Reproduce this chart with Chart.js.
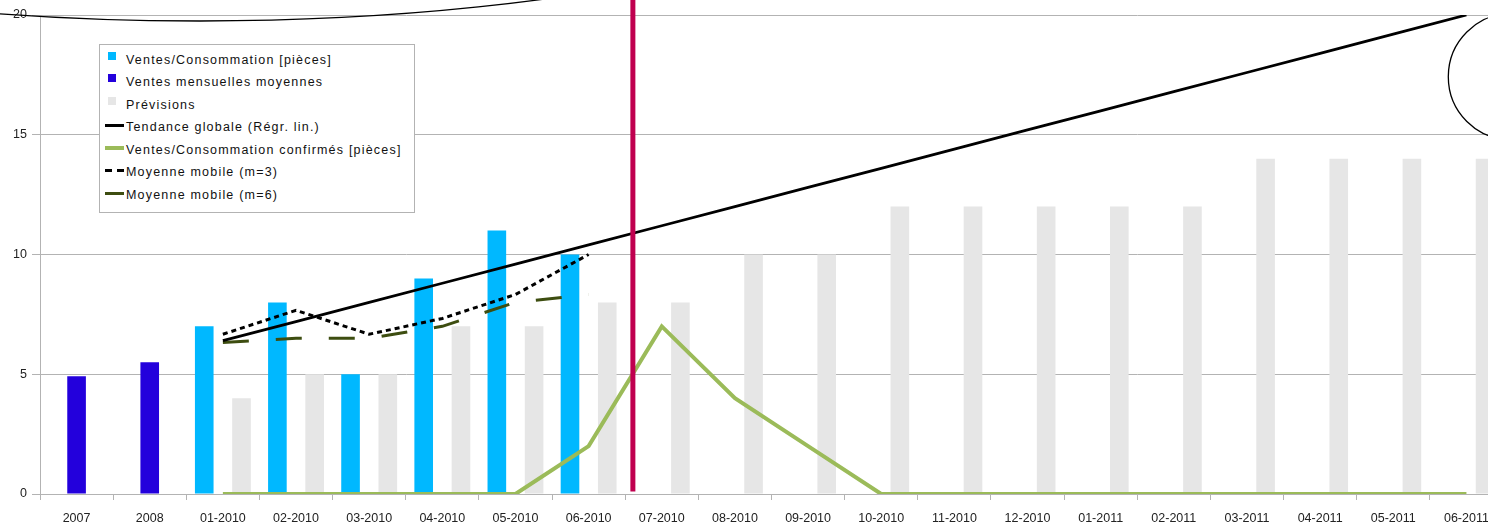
<!DOCTYPE html>
<html>
<head>
<meta charset="utf-8">
<script src="https://cdn.jsdelivr.net/npm/chart.js@4.4.1/dist/chart.umd.min.js"></script>
<style>
  html, body { margin: 0; padding: 0; background: #fff; overflow: hidden; width: 1488px; height: 528px; }
  #wrap { position: relative; width: 1503px; height: 528px; }
  #legend { position: absolute; left: 99px; top: 44px; width: 314px; height: 167px; border: 1px solid #b3b3b3; background: #fff; font-family: "Liberation Sans", Arial, sans-serif; font-size: 12.5px; letter-spacing: 1.2px; color: #111; z-index: 2; }
  .row { position: absolute; left: 26px; height: 15px; line-height: 15px; white-space: nowrap; }
  .sw { position: absolute; left: 8px; width: 8px; height: 8px; }
  .ln { position: absolute; left: 5px; width: 19px; height: 0; }
</style>
</head>
<body>
<div id="wrap">
  <canvas id="c"></canvas>
  <div id="legend"></div>
</div>
<script>
// ---- data ----
const categories = ["2007","2008","01-2010","02-2010","03-2010","04-2010","05-2010","06-2010","07-2010","08-2010","09-2010","10-2010","11-2010","12-2010","01-2011","02-2011","03-2011","04-2011","05-2011","06-2011"];
const ventes      = [null, null, 7, 8, 5, 9, 11, 10, null, null, null, null, null, null, null, null, null, null, null, null];
const moyennes    = [4.92, 5.5, null, null, null, null, null, null, null, null, null, null, null, null, null, null, null, null, null, null];
const previsions  = [null, null, 4, 5, 5, 7, 7, 8, 8, 10, 10, 12, 12, 12, 12, 12, 14, 14, 14, 14];
const tendance    = [null, null, 6.4, 7.2, 8.0, 8.8, 9.6, 10.4, 11.2, 12.0, 12.8, 13.6, 14.4, 15.2, 16.0, 16.8, 17.6, 18.4, 19.2, 20.0];
const confirmes   = [null, null, 0, 0, 0, 0, 0, 2, 7, 4, 2, 0, 0, 0, 0, 0, 0, 0, 0, 0];
const mm3         = [null, null, 6.67, 7.67, 6.67, 7.33, 8.33, 10.0, null, null, null, null, null, null, null, null, null, null, null, null];
const mm6         = [null, null, 6.33, 6.5, 6.5, 7.0, 8.0, 8.33, null, null, null, null, null, null, null, null, null, null, null, null];
const yTicks      = [0, 5, 10, 15, 20];

const C = {
  ventes: '#00b8ff', moy: '#2300dc', prev: '#e6e6e6', trend: '#000000',
  green: '#9bbb59', olive: '#3d4d10', red: '#c0004f', grid: '#b3b3b3'
};
const FONT = '"Liberation Sans", Arial, sans-serif';

const legendItems = [
  { label: 'Ventes/Consommation [pièces]', type: 'box', color: C.ventes },
  { label: 'Ventes mensuelles moyennes', type: 'box', color: C.moy },
  { label: 'Prévisions', type: 'box', color: C.prev },
  { label: 'Tendance globale (Régr. lin.)', type: 'line', color: C.trend, style: 'solid' },
  { label: 'Ventes/Consommation confirmés [pièces]', type: 'line', color: C.green, style: 'solid', w: 4 },
  { label: 'Moyenne mobile (m=3)', type: 'line', color: '#000', style: 'dash' },
  { label: 'Moyenne mobile (m=6)', type: 'line', color: C.olive, style: 'solid' }
];

// HTML legend
const lg = document.getElementById('legend');
legendItems.forEach((it, i) => {
  const cy = 15 + i * 22.5;
  if (it.type === 'box') {
    const s = document.createElement('div');
    s.className = 'sw';
    s.style.top = (cy - 8.5) + 'px';
    s.style.background = it.color;
    lg.appendChild(s);
  } else {
    const l = document.createElement('div');
    l.className = 'ln';
    const w = it.w || 3;
    l.style.top = (cy - 2 - w / 2) + 'px';
    if (it.style === 'dash') {
      l.style.borderTop = w + 'px dashed ' + it.color;
      l.style.borderImage = 'repeating-linear-gradient(to right, #000 0 7px, transparent 7px 12px) 1';
    } else {
      l.style.borderTop = w + 'px solid ' + it.color;
    }
    lg.appendChild(l);
  }
  const t = document.createElement('div');
  t.className = 'row';
  t.style.top = (cy - 7.5) + 'px';
  t.textContent = it.label;
  lg.appendChild(t);
});

// Decorations: red vertical marker + drawing ellipses
const decor = {
  id: 'decor',
  afterDatasetsDraw(chart) {
    const { ctx, scales: { x, y } } = chart;
    const step = x.getPixelForValue(8) - x.getPixelForValue(7);
    const xr = x.getPixelForValue(7) + 0.605 * step;
    ctx.save();
    ctx.strokeStyle = C.red;
    ctx.lineWidth = 5;
    ctx.beginPath();
    ctx.moveTo(xr, 0);
    ctx.lineTo(xr, y.getPixelForValue(0) - 2.5);
    ctx.stroke();
    // ellipses (drawing objects of the original sheet)
    ctx.strokeStyle = '#000';
    ctx.lineWidth = 1.3;
    ctx.beginPath();
    ctx.ellipse(200, -179, 756, 200, 0, 0, Math.PI * 2);
    ctx.stroke();
    ctx.beginPath();
    ctx.ellipse(1511.6, 76.7, 63.3, 63.3, 0, 0, Math.PI * 2);
    ctx.stroke();
    ctx.restore();
  }
};

new Chart(document.getElementById('c'), {
  data: {
    labels: categories,
    datasets: [
      { type: 'line', label: 'Tendance globale (Régr. lin.)', data: tendance, borderColor: C.trend, borderWidth: 2.8, pointRadius: 0, order: 0, spanGaps: false },
      { type: 'line', label: 'Ventes/Consommation confirmés [pièces]', data: confirmes, borderColor: C.green, borderWidth: 4, pointRadius: 0, order: 0 },
      { type: 'line', label: 'Moyenne mobile (m=3)', data: mm3, borderColor: '#000', borderWidth: 3, borderDash: [5, 4], pointRadius: 0, order: 0 },
      { type: 'line', label: 'Moyenne mobile (m=6)', data: mm6, borderColor: C.olive, borderWidth: 3, borderDash: [26, 27], pointRadius: 0, order: 0 },
      { type: 'bar', label: 'Ventes/Consommation [pièces]', data: ventes, backgroundColor: C.ventes, order: 1 },
      { type: 'bar', label: 'Ventes mensuelles moyennes', data: moyennes, backgroundColor: C.moy, order: 1 },
      { type: 'bar', label: 'Prévisions', data: previsions, backgroundColor: C.prev, order: 1 }
    ]
  },
  options: {
    responsive: true,
    maintainAspectRatio: false,
    animation: false,
    events: [],
    datasets: { bar: { categoryPercentage: 0.764, barPercentage: 1.0, borderWidth: 0 } },
    layout: { padding: { top: 15, right: 0, bottom: 0, left: 0 } },
    plugins: { legend: { display: false }, tooltip: { enabled: false } },
    scales: {
      x: {
        type: 'category',
        offset: true,
        grid: { display: true, drawOnChartArea: false, drawTicks: true, tickLength: 6, offset: true, color: C.grid },
        border: { display: true, color: C.grid, width: 1 },
        ticks: { color: '#222', font: { family: FONT, size: 12.5 }, padding: 11, maxRotation: 0, autoSkip: false },
        afterFit(s) { s.height = 34; }
      },
      y: {
        min: 0, max: 20,
        afterBuildTicks(s) { s.ticks = yTicks.map(v => ({ value: v })); },
        grid: { color: C.grid, lineWidth: 1, tickLength: 8, drawTicks: true },
        border: { display: true, color: C.grid, width: 1 },
        ticks: { color: '#222', font: { family: FONT, size: 12.5 }, padding: 5 },
        afterFit(s) { s.width = 40; }
      }
    }
  },
  plugins: [decor]
});
</script>
</body>
</html>
